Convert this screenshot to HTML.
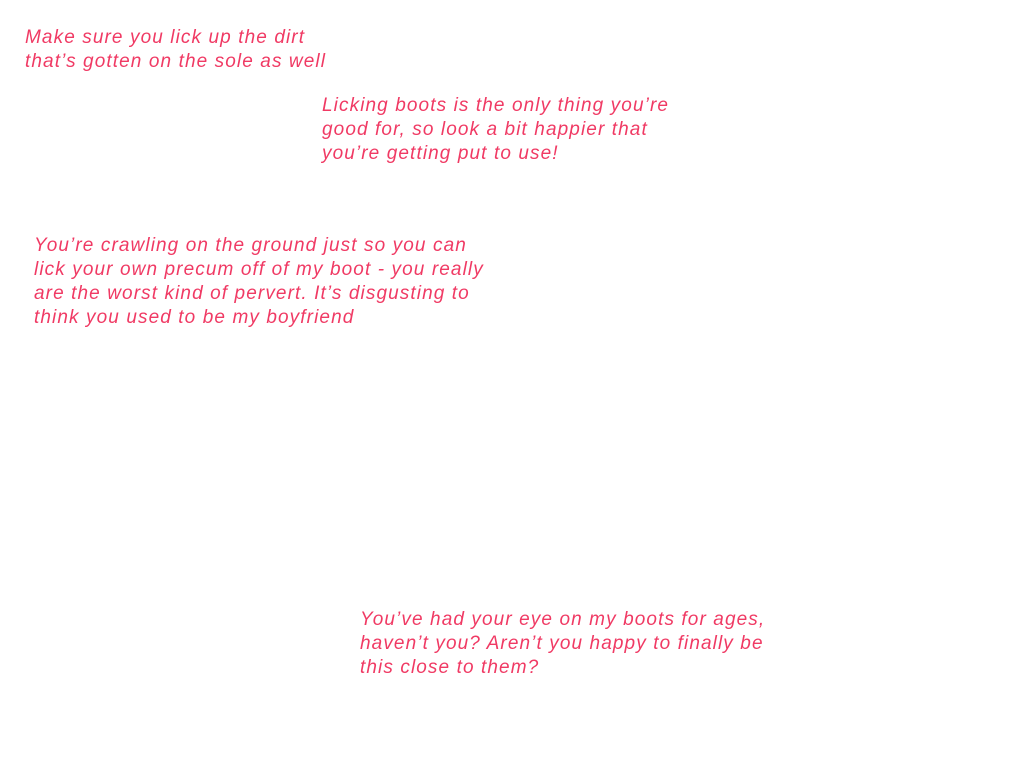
<!DOCTYPE html>
<html><head><meta charset="utf-8"><style>
html,body{margin:0;padding:0;width:1024px;height:768px;background:#fff;overflow:hidden;}
.t{position:absolute;font-family:"Liberation Sans",sans-serif;font-style:italic;font-size:19px;line-height:24px;color:#f03a64;white-space:nowrap;letter-spacing:1.1px;}
</style></head><body>
<div class="t" style="left:25px;top:26px;">Make sure you lick up the dirt<br>that’s gotten on the sole as well</div>
<div class="t" style="left:322px;top:94px;">Licking boots is the only thing you’re<br>good for, so look a bit happier that<br>you’re getting put to use!</div>
<div class="t" style="left:34px;top:234px;">You’re crawling on the ground just so you can<br>lick your own precum off of my boot - you really<br>are the worst kind of pervert. It’s disgusting to<br>think you used to be my boyfriend</div>
<div class="t" style="left:360px;top:608px;">You’ve had your eye on my boots for ages,<br>haven’t you? Aren’t you happy to finally be<br>this close to them?</div>
</body></html>
